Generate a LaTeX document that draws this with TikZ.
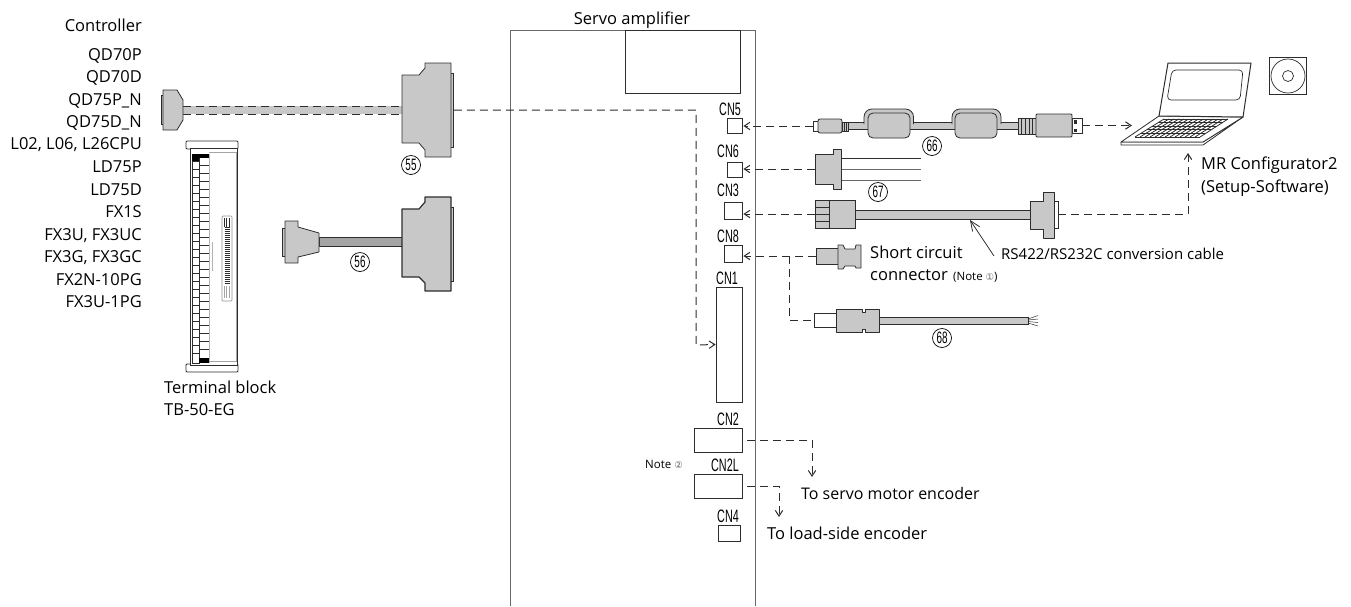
\documentclass[tikz,border=0pt]{standalone}
\usepackage{fontspec}
\setmainfont{Open Sans}
\newfontfamily\cnfont[FakeStretch=0.6]{Liberation Sans}
\newfontfamily\markfont{DejaVu Sans}
\usetikzlibrary{
  arrows.meta,
  positioning
}
\definecolor{partgray}{RGB}{200,200,200}
\definecolor{partline}{RGB}{45,45,45}
\definecolor{ampline}{RGB}{105,105,105}
\definecolor{cablemid}{RGB}{165,165,165}
\newcommand{\notemark}[1]{{\markfont\fontsize{9.5}{9.5}\selectfont\textcolor{ampline}{#1}}}
\tikzset{
  partShape/.style={
    draw=partline,
    fill=partgray,
    line width=0.8pt,
    line join=round
  },
  partBox/.style={
    rectangle,
    draw=partline,
    fill=partgray,
    line width=0.8pt,
    inner sep=0pt,
    minimum size=0pt
  },
  plainBox/.style={
    partBox,
    fill=white
  },
  cnBox/.style={
    rectangle,
    draw=partline,
    fill=white,
    line width=0.7pt,
    inner sep=0pt
  },
  cnLabel/.style={
    anchor=base east,
    font=\cnfont\fontsize{18}{18}\selectfont,
    inner sep=0pt
  },
  listLabel/.style={
    anchor=base east,
    font=\fontsize{16.5}{16.5}\selectfont,
    inner sep=0pt
  },
  plainLabel/.style={
    anchor=base west,
    font=\fontsize{16.5}{16.5}\selectfont,
    inner sep=0pt
  },
  noteLabel/.style={
    anchor=base west,
    font=\fontsize{11.5}{11.5}\selectfont,
    inner sep=0pt
  },
  numMark/.style={
    circle,
    draw=black,
    line width=0.7pt,
    fill=white,
    minimum size=19pt,
    inner sep=0pt,
    font=\cnfont\fontsize{16.5}{16.5}\selectfont
  },
  dashLink/.style={
    draw=partline,
    line width=1pt,
    dash pattern=on 8pt off 5pt
  },
  tipLink/.style={
    dashLink,
    -{Straight Barb[length=2mm,width=2.6mm]}
  }
}

\begin{document}
\begin{tikzpicture}[x=1pt,y=-1pt]
  \useasboundingbox (0,0) rectangle (1351,606);

  % amplifier
  \draw[ampline, line width=1pt] (510,606) -- (510,30) -- (755,30) -- (755,606);
  \node[cnBox, minimum width=115pt, minimum height=63pt] (panel) at (682.5,61.5) {};
  \node[plainLabel, anchor=base] (ampTitle) at (632,24) {Servo amplifier};

  \node[cnBox, minimum width=15pt, minimum height=15pt] (cn5) at (734.5,125.5) {};
  \node[cnBox, minimum width=15pt, minimum height=15pt] (cn6) at (734.5,169.5) {};
  \node[cnBox, minimum width=18pt, minimum height=17pt] (cn3) at (733,210.5) {};
  \node[cnBox, minimum width=18pt, minimum height=17pt] (cn8) at (733,253.5) {};
  \node[cnBox, minimum width=26pt, minimum height=115pt] (cn1) at (729,344.5) {};
  \node[cnBox, minimum width=48pt, minimum height=24pt] (cn2) at (718,440) {};
  \node[cnBox, minimum width=48pt, minimum height=24pt] (cn2l) at (718,486) {};
  \node[cnBox, minimum width=22pt, minimum height=16pt] (cn4) at (729,533) {};

  \node[cnLabel] (cn5Text) at (741,115) {CN5};
  \node[cnLabel] (cn6Text) at (739,157) {CN6};
  \node[cnLabel] (cn3Text) at (739,196) {CN3};
  \node[cnLabel] (cn8Text) at (739,242) {CN8};
  \node[cnLabel] (cn1Text) at (738,284) {CN1};
  \node[cnLabel] (cn2Text) at (739,425) {CN2};
  \node[cnLabel] (cn2lText) at (739,471) {CN2L};
  \node[cnLabel] (cn4Text) at (739,522) {CN4};
  \node[noteLabel] (noteTwo) at (645,468) {Note \notemark{②}};

  % controller list
  \node[listLabel] (controller) at (142,31) {Controller};
  \node[listLabel] (qd70p) at (142,60.7) {QD70P};
  \node[listLabel] (qd70d) at (142,82.7) {QD70D};
  \node[listLabel] (qd75p) at (142,105) {QD75P\_N};
  \node[listLabel] (qd75d) at (142,127.7) {QD75D\_N};
  \node[listLabel] (l02) at (142,149.5) {L02, L06, L26CPU};
  \node[listLabel] (ld75p) at (142,172.7) {LD75P};
  \node[listLabel] (ld75d) at (142,195) {LD75D};
  \node[listLabel] (fx1s) at (142,217.5) {FX1S};
  \node[listLabel] (fx3u) at (142,240) {FX3U, FX3UC};
  \node[listLabel] (fx3g) at (142,262) {FX3G, FX3GC};
  \node[listLabel] (fx2n) at (142,285) {FX2N-10PG};
  \node[listLabel] (fx3ua) at (142,307) {FX3U-1PG};

  % cable 55
  \node[draw=none, fill=partgray, minimum width=219pt, minimum height=8pt, inner sep=0pt] (cable55) at (292.5,110) {};
  \draw[dashLink] (183,106) -- (402,106);
  \draw[dashLink] (183,114) -- (402,114);
  \node[partBox, minimum width=2pt, minimum height=29pt] (plug55Plate) at (162,109.5) {};
  \draw[partShape] (163,90) -- (177,90) -- (183,100) -- (183,120) -- (177,130) -- (163,130) -- cycle;
  \node[plainBox, fill=partgray, minimum width=3pt, minimum height=74pt] (plate55) at (452,110) {};
  \draw[partShape] (402,75) -- (419,75) -- (425,68) -- (425,63) -- (451,63) -- (451,157) -- (425,157)
    -- (425,150) -- (419,143) -- (402,143) -- cycle;
  \node[numMark] (mark55) at (411,165) {55};

  % cable 56
  \node[partBox, fill=cablemid, minimum width=83pt, minimum height=9pt] (cable56) at (360.5,242) {};
  \node[partBox, minimum width=3pt, minimum height=28pt] (plate56a) at (283.5,242) {};
  \draw[partShape] (285,221) -- (298,221) -- (298,227) -- (319,233) -- (319,252) -- (298,257) -- (298,263)
    -- (285,263) -- cycle;
  \node[partBox, minimum width=3pt, minimum height=74pt] (plate56b) at (452,244) {};
  \draw[partShape, line width=1.2pt] (402,209) -- (419,209) -- (425,202) -- (425,197) -- (451,197) -- (451,291) -- (425,291)
    -- (425,283) -- (419,277) -- (402,277) -- cycle;
  \node[numMark] (mark56) at (360,262) {56};

  % terminal block
  \draw[partline, line width=0.8pt, fill=white, rounded corners=1pt] (186,141) rectangle (238,149);
  \draw[partline, line width=0.8pt, fill=white, rounded corners=1pt] (186,364) rectangle (238,372);
  \draw[partline, line width=0.8pt, fill=white] (190,148) rectangle (237,365);
  \draw[ampline!60, line width=0.6pt] (209,152) -- (236,152) -- (236,361) -- (209,361);
  \draw[partline, line width=0.8pt] (192,154) rectangle (199,363);
  \draw[ampline!50, line width=0.6pt] (209.5,154) -- (209.5,363);
  \fill[black] (192,154) rectangle (209,157.5);
  \fill[black] (192,154) rectangle (199,161);
  \fill[black] (199,358) rectangle (209,363);
  \foreach \k in {0,...,24}{
    \draw[partline, line width=0.7pt] (192,161+8*\k) -- (199,161+8*\k);
  }
  \foreach \k in {0,...,23}{
    \draw[partline, line width=0.7pt] (199,165.5+8*\k) -- (209,165.5+8*\k);
  }
  \draw[ampline!50, line width=1pt] (212.5,242) -- (212.5,271);
  \draw[ampline!70, line width=0.7pt, rounded corners=1pt] (222,216) rectangle (232,301);
  \draw[partline, line width=0.6pt] (224,218) -- (224,227) (226.5,218) -- (226.5,227) (229.5,218) -- (229.5,227);
  \foreach \k in {0,...,28}{
    \draw[partline, line width=0.9pt] (224.5,227+2*\k) -- (229.5,227+2*\k);
  }
  \draw[ampline!60, line width=0.5pt] (224,286) -- (224,298) (226.5,286) -- (226.5,298) (229.5,286) -- (229.5,298);
  \node[plainLabel] (tbText) at (164,393) {Terminal block};
  \node[plainLabel] (tbType) at (164,415) {TB-50-EG};

  % cable 66
  \node[partBox, minimum width=170pt, minimum height=7pt] (cable66) at (933,125.5) {};
  \draw[partline, line width=0.8pt, fill=partgray, rounded corners=8pt] (864,124) -- (864,109) -- (913.5,109) -- (913.5,124);
  \draw[partline, line width=0.8pt, fill=partgray, rounded corners=8pt] (952,124) -- (952,109) -- (1001,109) -- (1001,124);
  \node[partBox, minimum width=42pt, minimum height=25pt, rounded corners=5pt] (ferriteA) at (889,125.5) {};
  \node[partBox, minimum width=42pt, minimum height=25pt, rounded corners=5pt] (ferriteB) at (976,125.5) {};
  \node[plainBox, minimum width=5pt, minimum height=10pt] (plug66) at (815.5,126) {};
  \node[partBox, minimum width=24pt, minimum height=14pt, rounded corners=2pt] (mini66) at (830,126) {};
  \node[partBox, minimum width=6pt, minimum height=9pt] (strain66a) at (845,126.5) {};
  \draw[partline, line width=0.5pt] (844,122) -- (844,131) (846,122) -- (846,131);
  \node[partBox, minimum width=18pt, minimum height=16pt] (strain66b) at (1027,126) {};
  \foreach \k in {1,...,4}{
    \draw[partline, line width=0.6pt] (1018+3.6*\k,118) -- (1018+3.6*\k,134);
  }
  \node[plainBox, minimum width=10pt, minimum height=15pt] (usb66) at (1077,125.5) {};
  \fill[partline] (1073.5,120) rectangle (1077,123.5);
  \fill[partline] (1073.5,128.5) rectangle (1077,132);
  \node[partBox, minimum width=36pt, minimum height=23pt, rounded corners=1pt] (body66) at (1054,125.5) {};
  \node[numMark] (mark66) at (932,146) {66};

  % cable 67
  \draw[partline, line width=0.8pt] (841,158) -- (921,158);
  \draw[ampline, line width=0.9pt] (841,169) -- (921,169);
  \draw[ampline, line width=0.9pt] (841,180) -- (921,180);
  \draw[partShape] (815,154) -- (833,154) -- (833,149) -- (841,149) -- (841,189) -- (833,189) -- (833,184) -- (815,184) -- cycle;
  \coordinate (plug67) at (815,169);
  \node[numMark] (mark67) at (878,192) {67};

  % conversion cable
  \node[partBox, minimum width=175pt, minimum height=9pt] (cableRs) at (942.5,214.5) {};
  \node[partBox, minimum width=14pt, minimum height=28pt] (plugRsA) at (822,214) {};
  \draw[partline, line width=0.7pt] (815,207) -- (829,207) (815,214) -- (829,214) (815,221) -- (829,221);
  \node[partBox, minimum width=26pt, minimum height=28pt] (plugRsB) at (842,214) {};
  \node[plainBox, minimum width=4pt, minimum height=27pt] (plateRs) at (1056,214.5) {};
  \draw[partShape] (1030,201) -- (1043,201) -- (1043,192) -- (1054,192) -- (1054,238) -- (1043,238) -- (1043,229) -- (1030,229) -- cycle;
  \coordinate (rsTail) at (994,256);
  \coordinate (rsHead) at (970,220);
  \draw[partline, line width=0.8pt, -{Straight Barb[length=3.5mm,width=3mm]}] (rsTail) -- (rsHead);
  \node[plainLabel, font=\fontsize{15}{15}\selectfont] (rsText) at (1001,259) {RS422/RS232C conversion cable};

  % short circuit connector
  \node[partBox, minimum width=22pt, minimum height=16pt] (shortPlug) at (827,256) {};
  \draw[partShape] (838,245) -- (843,245) -- (845,249) -- (855,249) -- (856,245) -- (861,245) -- (861,268) -- (856,268)
    -- (855,266) -- (845,266) -- (843,269) -- (838,269) -- cycle;
  \node[plainLabel] (shortText) at (870,258) {Short circuit};
  \node[plainLabel] (shortTextB) at (870,280) {connector};
  \node[noteLabel] (noteOne) at (953,280) {(Note \notemark{①})};

  % cable 68
  \node[partBox, fill=partgray, minimum width=149pt, minimum height=7pt] (cable68) at (953.5,320.5) {};
  \node[plainBox, minimum width=22pt, minimum height=14pt] (plug68) at (825,320) {};
  \draw[partShape] (836,309) -- (862,309) -- (862,312) -- (865,312) -- (865,309) -- (879,309) -- (879,332) -- (865,332)
    -- (865,329) -- (862,329) -- (862,332) -- (836,332) -- cycle;
  \draw[partline, line width=0.5pt] (1028,319) -- (1038,315.5) (1028,320) -- (1038,319) (1028,321.5) -- (1038,322.5) (1028,323) -- (1038,326);
  \node[numMark] (mark68) at (942,338) {68};

  % laptop
  \draw[partline, line width=0.8pt, fill=white, line join=round] (1121,142) -- (1121,145) -- (1203,145) -- (1243,117) -- (1203,142) -- cycle;
  \draw[partline, line width=0.8pt, fill=white, line join=round] (1121,142) -- (1159,116) -- (1243,117) -- (1203,142) -- cycle;
  \draw[partline, line width=1pt, fill=white, line join=round] (1159,116) -- (1168,63) -- (1251,63) -- (1243,117) -- cycle;
  \draw[partline, line width=0.7pt, rounded corners=4pt] (1167,100) -- (1172,70) -- (1243,70) -- (1240,100) -- cycle;
  \foreach \s in {0,...,13}{
    \draw[partline, line width=0.8pt] (1135+5*\s,137) -- (1164+4.92*\s,119);
  }
  \foreach \t in {0,...,5}{
    \draw[partline, line width=0.8pt] (1135+5.8*\t,137-3.6*\t) -- (1200+5.6*\t,137-3.6*\t);
  }
  \coordinate (laptopSide) at (1132,126);
  \coordinate (laptopBase) at (1188,153);
  \node[plainLabel] (mrText) at (1201,169) {MR Configurator2};
  \node[plainLabel] (mrTextB) at (1201,192) {(Setup-Software)};

  % disc
  \node[cnBox, minimum size=37pt] (discCase) at (1287.5,75.5) {};
  \node[circle, draw=partline, line width=0.7pt, minimum size=34pt, inner sep=0pt] (disc) at (1288,76) {};
  \node[circle, draw=partline, line width=0.7pt, minimum size=11pt, inner sep=0pt] (discHole) at (1288,76) {};

  % links
  \coordinate (elbow55) at (696,345);
  \coordinate (branch68) at (789,256);
  \coordinate (servoEnd) at (812,477);
  \coordinate (loadEnd) at (779,517);
  \draw[tipLink] (plate55.east) -| (elbow55) -- (cn1.west);
  \draw[tipLink, shorten >=1pt] (plug66.west) -- (plug66.west -| cn5.east);
  \draw[tipLink, shorten >=1pt] (plug67) -- (plug67 -| cn6.east);
  \draw[tipLink, shorten >=1pt] (plugRsA.west) -- (plugRsA.west -| cn3.east);
  \draw[tipLink, shorten >=1pt] (shortPlug.west) -- (shortPlug.west -| cn8.east);
  \draw[dashLink] (branch68) |- (plug68.west);
  \draw[tipLink] (usb66.east) -- (usb66.east -| laptopSide);
  \draw[tipLink] (plateRs.east) -| (laptopBase);
  \draw[tipLink, shorten <=5pt] (cn2.east) -| (servoEnd);
  \draw[tipLink, shorten <=5pt] (cn2l.east) -| (loadEnd);
  \node[plainLabel, font=\fontsize{16}{16}\selectfont] (servoText) at (801,499) {To servo motor encoder};
  \node[plainLabel] (loadText) at (767,539) {To load-side encoder};
\end{tikzpicture}
\end{document}
